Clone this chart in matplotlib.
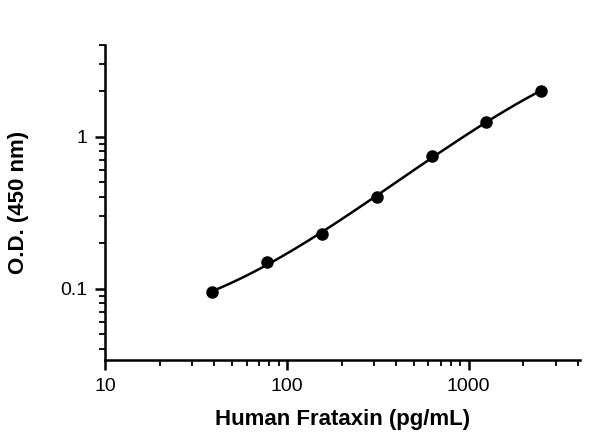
import numpy as np
import matplotlib.pyplot as plt
from matplotlib.ticker import LogLocator, NullFormatter, FixedLocator

# standard curve data
conc = [39, 78, 156, 312, 625, 1250, 2500]          # pg/mL
od = [0.095, 0.15, 0.23, 0.40, 0.74, 1.25, 2.0]      # O.D. 450 nm

plt.rcParams['font.family'] = ['Liberation Sans', 'DejaVu Sans']
fig = plt.figure(figsize=(6, 4.46), dpi=100)
ax = fig.add_axes([0.175, 0.193, 0.792, 0.706])

# smooth fit in log-log space
lx, ly = np.log10(conc), np.log10(od)
coef = np.polyfit(lx, ly, 3)
xs = np.linspace(lx[0], lx[-1], 200)
ax.plot(10 ** xs, 10 ** np.polyval(coef, xs), color="black", lw=1.8)
ax.plot(conc, od, "o", color="black", ms=8)

ax.set_xscale("log")
ax.set_yscale("log")
ax.set_xlim(10, 4100)
ax.set_ylim(0.034, 4)
ax.xaxis.set_major_locator(FixedLocator([10, 100, 1000]))
ax.xaxis.set_minor_locator(LogLocator(base=10, subs=np.arange(2, 10)))
ax.xaxis.set_minor_formatter(NullFormatter())
ax.set_xticklabels(["10", "100", "1000"])
ax.yaxis.set_major_locator(FixedLocator([0.1, 1]))
ax.set_yticklabels(["0.1", "1"])
ax.yaxis.set_minor_locator(LogLocator(base=10, subs=np.arange(2, 10)))
ax.yaxis.set_minor_formatter(NullFormatter())

for s in ("top", "right"):
    ax.spines[s].set_visible(False)
for s in ("left", "bottom"):
    ax.spines[s].set_linewidth(1.8)
ax.tick_params(which="major", length=7, width=1.8, labelsize=14, pad=6)
ax.tick_params(which="minor", length=4, width=1.3)

ax.set_xlabel("Human Frataxin (pg/mL)", fontsize=16, fontweight="bold", labelpad=10)
ax.set_ylabel("O.D. (450 nm)", fontsize=16, fontweight="bold", labelpad=22)

fig.savefig("out.png", dpi=100)
